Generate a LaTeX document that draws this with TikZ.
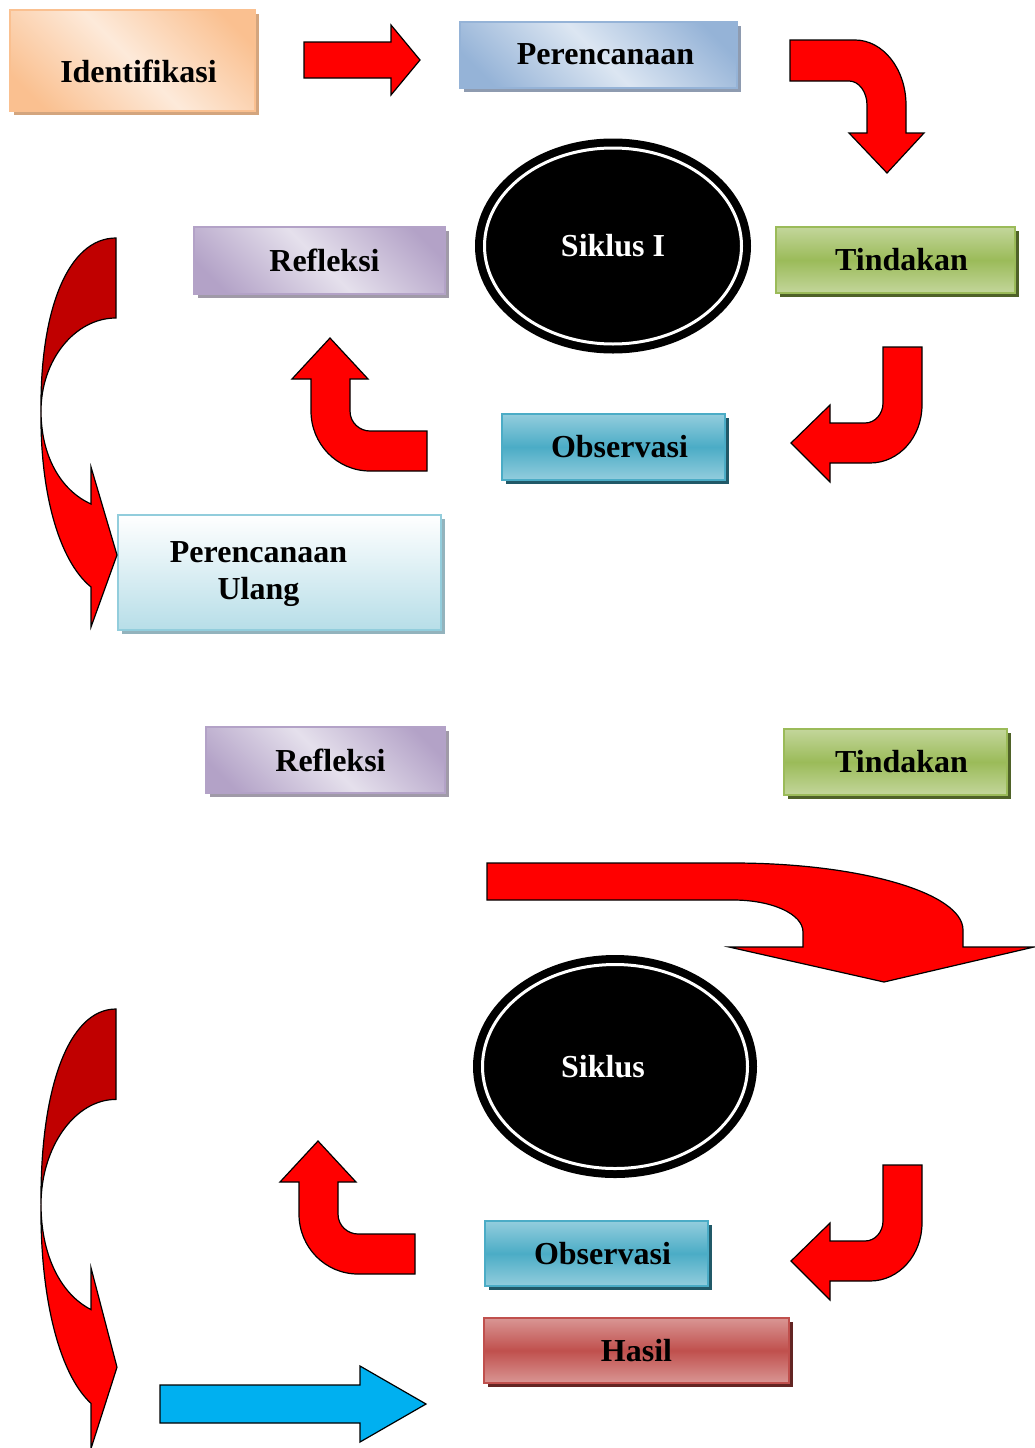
\documentclass[tikz,border=0pt]{standalone}
\usepackage{fontspec}
\setmainfont{Liberation Serif}
\usetikzlibrary{shapes.geometric,shadows}

\definecolor{orangeA}{HTML}{FAC090}
\definecolor{orangeB}{HTML}{FDEADA}
\definecolor{orangeS}{HTML}{D3A57E}
\definecolor{blueA}{HTML}{95B3D7}
\definecolor{blueB}{HTML}{DCE6F2}
\definecolor{blueS}{HTML}{8E9BB0}
\definecolor{greenA}{HTML}{9BBB59}
\definecolor{greenB}{HTML}{C3D69B}
\definecolor{greenS}{HTML}{4F6228}
\definecolor{lilacA}{HTML}{B3A2C7}
\definecolor{lilacB}{HTML}{E5E0EC}
\definecolor{lilacS}{HTML}{A09AA8}
\definecolor{tealA}{HTML}{4BACC6}
\definecolor{tealB}{HTML}{93CDDD}
\definecolor{tealS}{HTML}{215968}
\definecolor{roseA}{HTML}{C0504D}
\definecolor{roseB}{HTML}{D99694}
\definecolor{roseS}{HTML}{632523}
\definecolor{iceA}{HTML}{92CDDC}
\definecolor{iceB}{HTML}{B7DEE8}
\definecolor{iceS}{HTML}{93B3BD}
\definecolor{darkred}{HTML}{C00000}
\definecolor{skyblue}{HTML}{00B0F0}

% diagonal glow for the light boxes
\colorlet{glowA}{white}
\colorlet{glowB}{white}
\pgfdeclareverticalshading[glowA,glowB]{glow}{100bp}{color(0bp)=(glowA); color(22bp)=(glowA);
	color(50bp)=(glowB); color(78bp)=(glowA); color(100bp)=(glowA)}

\begin{document}
\begin{tikzpicture}[x=1pt,y=-1pt,
	box/.style={rectangle,line width=1.2pt,font=\bfseries\fontsize{32}{37}\selectfont},
	every label/.style={font=\bfseries\fontsize{32}{37}\selectfont},
	diagbox/.style n args={3}{box,draw=#1,/utils/exec={\colorlet{glowA}{#1}\colorlet{glowB}{#2}},
		shading=glow,shading angle=-45,
		drop shadow={shadow xshift=4pt,shadow yshift=-4pt,fill=#3,opacity=1}},
	bandbox/.style n args={3}{box,draw=#1,top color=#2,bottom color=#2,middle color=#1,
		drop shadow={shadow xshift=4pt,shadow yshift=-4pt,fill=#3,opacity=1}},
	ring/.style={ellipse,fill=black,draw=black,double=white,double distance=3pt,line width=8pt,
		text=white,font=\bfseries\fontsize{32}{37}\selectfont},
	redarrow/.style={fill=red,draw=black,line width=1.2pt}]
	\useasboundingbox (0,0) rectangle (1034,1448);

	% siklus pertama
	\node[diagbox={orangeA}{orangeB}{orangeS},minimum width=245,minimum height=101,
		label={[xshift=6pt,yshift=-11pt]center:Identifikasi}] (ident) at (132.5,60.5) {};
	\node[diagbox={blueA}{blueB}{blueS},minimum width=277,minimum height=66,
		label={[xshift=7pt,yshift=1pt]center:Perencanaan}] (plan) at (598.5,55) {};
	\node[ring,minimum width=257,minimum height=196] (siklusA) at (613,246) {Siklus I};
	\node[bandbox={greenA}{greenB}{greenS},minimum width=239,minimum height=66,
		label={[xshift=6pt]center:Tindakan}] (actA) at (895.5,260) {};
	\node[diagbox={lilacA}{lilacB}{lilacS},minimum width=251,minimum height=67,
		label={[xshift=5pt]center:Refleksi}] (reflA) at (319.5,260.5) {};
	\node[bandbox={tealA}{tealB}{tealS},minimum width=223,minimum height=66,
		label={[xshift=6pt]center:Observasi}] (obsA) at (613.5,447) {};
	\node[box,draw=iceA,top color=white,bottom color=iceB,
		drop shadow={shadow xshift=4pt,shadow yshift=-4pt,fill=iceS,opacity=1},
		minimum width=323,minimum height=115,
		label={[align=center,xshift=-21pt,yshift=-2pt]center:Perencanaan\\Ulang}] (replan) at (279.5,572.5) {};

	\draw[redarrow] (304,42) -- (391,42) -- (391,25) -- (420,60) -- (391,95) -- (391,78) -- (304,78) -- cycle;
	\draw[redarrow] (790,40) -- (855,40) .. controls (883,40) and (906,69) .. (906,105) -- (906,133)
		-- (924,133) -- (887,173) -- (849,133) -- (867,133) -- (867,105)
		.. controls (867,92) and (859,81) .. (849,81) -- (790,81) -- cycle;
	\draw[redarrow] (883,347) -- (922,347) -- (922,405) .. controls (922,437) and (899,463) .. (870,463)
		-- (830,463) -- (830,482) -- (791,443) -- (830,405) -- (830,423) -- (865,423)
		.. controls (875,423) and (883,414) .. (883,403) -- cycle;
	\draw[redarrow] (427,431) -- (370,431) .. controls (360,431) and (350,423) .. (350,411) -- (350,379)
		-- (368,379) -- (330,338) -- (292,379) -- (311,379) -- (311,411)
		.. controls (311,444) and (337,471) .. (370,471) -- (427,471) -- cycle;
	\begin{scope}[shift={(0,238)}]
		\draw[fill=darkred,line width=1.2pt] (116,0) -- (116,80) .. controls (75,80) and (41,122) .. (41,173)
			.. controls (40,72) and (68,0) .. (116,0) -- cycle;
		\draw[redarrow] (41,173) .. controls (41,217) and (60,252) .. (91,266) -- (91,229) -- (117,317)
			-- (91,389) -- (91,349) .. controls (58,322) and (40,252) .. (41,173) -- cycle;
	\end{scope}

	% siklus kedua
	\node[diagbox={lilacA}{lilacB}{lilacS},minimum width=239,minimum height=66,
		label={[xshift=5pt]center:Refleksi}] (reflB) at (325.5,760) {};
	\node[bandbox={greenA}{greenB}{greenS},minimum width=223,minimum height=66,
		label={[xshift=6pt]center:Tindakan}] (actB) at (895.5,762) {};
	\node[ring,minimum width=265,minimum height=204,
		label={[text=white,xshift=-12pt]center:Siklus}] (siklusB) at (615,1066.5) {};
	\node[bandbox={tealA}{tealB}{tealS},minimum width=223,minimum height=65,
		label={[xshift=6pt]center:Observasi}] (obsB) at (596.5,1253.5) {};
	\node[bandbox={roseA}{roseB}{roseS},minimum width=305,minimum height=65] (hasil) at (636.5,1350.5) {Hasil};

	\draw[redarrow] (487,863) -- (733,863) .. controls (860,863) and (963,893) .. (963,930) -- (963,947)
		-- (1034,947) -- (884,982) -- (729,947) -- (803,947) -- (803,932)
		.. controls (803,914) and (772,900) .. (733,900) -- (487,900) -- cycle;
	\begin{scope}[shift={(0,818)}]
		\draw[redarrow] (883,347) -- (922,347) -- (922,405) .. controls (922,437) and (899,463) .. (870,463)
			-- (830,463) -- (830,482) -- (791,443) -- (830,405) -- (830,423) -- (865,423)
			.. controls (875,423) and (883,414) .. (883,403) -- cycle;
	\end{scope}
	\begin{scope}[shift={(-12,803)}]
		\draw[redarrow] (427,431) -- (370,431) .. controls (360,431) and (350,423) .. (350,411) -- (350,379)
			-- (368,379) -- (330,338) -- (292,379) -- (311,379) -- (311,411)
			.. controls (311,444) and (337,471) .. (370,471) -- (427,471) -- cycle;
	\end{scope}
	\begin{scope}[shift={(0,1009)},yscale=1.13]
		\draw[fill=darkred,line width=1.2pt] (116,0) -- (116,80) .. controls (75,80) and (41,122) .. (41,173)
			.. controls (40,72) and (68,0) .. (116,0) -- cycle;
		\draw[redarrow] (41,173) .. controls (41,217) and (60,252) .. (91,266) -- (91,229) -- (117,317)
			-- (91,389) -- (91,349) .. controls (58,322) and (40,252) .. (41,173) -- cycle;
	\end{scope}
	\draw[fill=skyblue,line width=1.2pt] (160,1385) -- (360,1385) -- (360,1366) -- (426,1404) -- (360,1442)
		-- (360,1423) -- (160,1423) -- cycle;
\end{tikzpicture}
\end{document}
